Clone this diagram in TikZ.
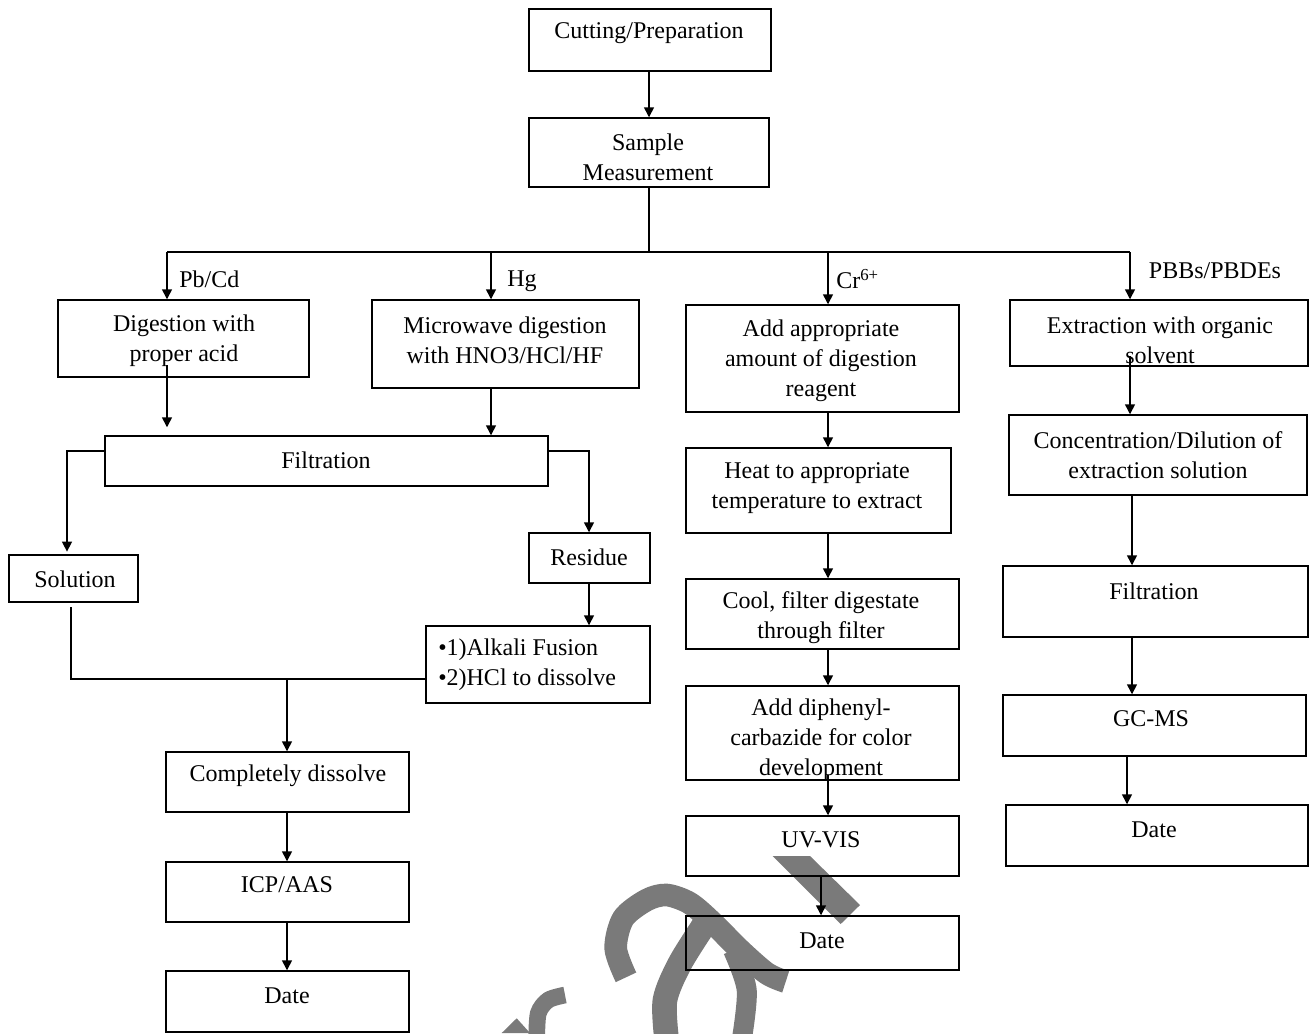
\documentclass[tikz,border=0pt]{standalone}
\usepackage{fontspec}
\setmainfont{Liberation Serif}
\usetikzlibrary{fit,arrows.meta}
\begin{document}
\begin{tikzpicture}[x=0.75pt,y=-0.75pt,
  box/.style={draw=black,line width=1.1pt,inner sep=0pt,rectangle},
  txt/.style={font=\fontsize{18}{22.5}\selectfont,align=center,inner sep=0pt},
  lbl/.style={font=\fontsize{18}{22.5}\selectfont,inner sep=0pt},
  conn/.style={draw=black,line width=1.1pt},
  arr/.style={conn,-{Triangle[length=7.5pt,width=7.5pt]}}]
\useasboundingbox (0,0) rectangle (1309,1033);
\newcommand\bx[5]{\node[box,fit={(#2,#3)(#4,#5)}] (#1) {};}
% boxes
\bx{cut}{529}{9}{771}{71}
\bx{samp}{529}{118}{769}{187}
\bx{dig}{58}{300}{309}{377}
\bx{mw}{372}{300}{639}{388}
\bx{cra}{686}{305}{959}{412}
\bx{ex}{1010}{300}{1308}{366}
\bx{filt}{105}{436}{548}{486}
\bx{sol}{9}{555}{138}{602}
\bx{res}{529}{533}{650}{583}
\bx{alk}{426}{626}{650}{703}
\bx{cd}{166}{752}{409}{812}
\bx{icp}{166}{862}{409}{922}
\bx{dateA}{166}{971}{409}{1032}
\bx{crb}{686}{448}{951}{533}
\bx{crc}{686}{579}{959}{649}
\bx{crd}{686}{686}{959}{780}
\bx{uv}{686}{816}{959}{876}
\bx{dateB}{686}{916}{959}{970}
\bx{conc}{1009}{415}{1307}{495}
\bx{filtB}{1003}{566}{1308}{637}
\bx{gc}{1003}{695}{1306}{756}
\bx{dateC}{1006}{805}{1308}{866}
% texts
\node[txt] (tcut) at (649,33) {Cutting/Preparation};
\node[txt] (tsamp) at (648,157.5) {Sample\\Measurement};
\node[txt] (tdig) at (184,340.5) {Digestion with\\proper acid};
\node[txt] (tmw) at (505,340.5) {Microwave digestion\\with HNO3/HCl/HF};
\node[txt] (tcra) at (821,360.5) {Add appropriate\\amount of digestion\\reagent};
\node[txt] (tex) at (1160,340.5) {Extraction with organic\\solvent};
\node[txt] (tfilt) at (326,460) {Filtration};
\node[txt] (tsol) at (75,579) {Solution};
\node[txt] (tres) at (589,557) {Residue};
\node[txt,align=left,anchor=west] (talk) at (438,665) {•1)Alkali Fusion\\•2)HCl to dissolve};
\node[txt] (tcd) at (288,776) {Completely dissolve};
\node[txt] (ticp) at (287,885) {ICP/AAS};
\node[txt] (tdateA) at (287,996) {Date};
\node[txt] (tcrb) at (817,488) {Heat to appropriate\\temperature to extract};
\node[txt] (tcrc) at (821,618) {Cool, filter digestate\\through filter};
\node[txt] (tcrd) at (821,740) {Add diphenyl-\\carbazide for color\\development};
\node[txt] (tuv) at (821,840) {UV-VIS};
\node[txt] (tdateB) at (822,941) {Date};
\node[txt] (tconc) at (1158,455.5) {Concentration/Dilution of\\extraction solution};
\node[txt] (tfiltB) at (1154,591) {Filtration};
\node[txt] (tgc) at (1151,719) {GC-MS};
\node[txt] (tdateC) at (1154,830) {Date};
% branch labels
\node[lbl,anchor=west] (lpb) at (179,279) {Pb/Cd};
\node[lbl,anchor=west] (lhg) at (507,281) {Hg};
\node[lbl,anchor=west] (lcr) at (836,279) {Cr\textsuperscript{6+}};
\node[lbl] (lpbb) at (1215,271) {PBBs/PBDEs};
% connectors
\coordinate (top) at (649,0);
\draw[arr] (cut.south -| top) -- (samp.north -| top);
\coordinate (bus) at (649,252);
\coordinate (busL) at (167,252);
\coordinate (busR) at (1130,252);
\coordinate (bHg) at (491,252);
\coordinate (bCr) at (828,252);
\draw[conn] (samp.south -| top) -- (bus);
\draw[conn] (busL) -- (busR);
\draw[arr] (busL) -- (dig.north -| busL);
\draw[arr] (bHg) -- (mw.north -| bHg);
\draw[arr] (bCr) -- (cra.north -| bCr);
\draw[arr] (busR) -- (ex.north -| busR);
\coordinate (d1) at (167,365);
\draw[arr,shorten >=6pt] (d1) -- (filt.north -| d1);
\draw[arr] (mw.south -| bHg) -- (filt.north -| bHg);
\coordinate (fl) at (67,451);
\draw[arr,shorten >=2pt] (filt.west |- fl) -- (fl) -- (sol.north -| fl);
\coordinate (fr) at (589,451);
\draw[arr] (filt.east |- fr) -- (fr) -- (res.north -| fr);
\draw[arr] (res.south -| fr) -- (alk.north -| fr);
\coordinate (s1) at (71,607);
\coordinate (s2) at (71,679);
\draw[conn] (s1) -- (s2) -- (alk.west |- s2);
\coordinate (jn) at (287,679);
\draw[arr] (jn) -- (cd.north -| jn);
\draw[arr] (cd.south -| jn) -- (icp.north -| jn);
\draw[arr] (icp.south -| jn) -- (dateA.north -| jn);
\draw[arr] (cra.south -| bCr) -- (crb.north -| bCr);
\draw[arr] (crb.south -| bCr) -- (crc.north -| bCr);
\draw[arr] (crc.south -| bCr) -- (crd.north -| bCr);
\coordinate (c4) at (828,775);
\draw[arr] (c4) -- (uv.north -| c4);
\coordinate (c5) at (821,876);
\draw[arr] (c5) -- (dateB.north -| c5);
\coordinate (e1) at (1130,356);
\draw[arr] (e1) -- (conc.north -| e1);
\coordinate (e2) at (1132,495);
\draw[arr] (e2) -- (filtB.north -| e2);
\draw[arr] (filtB.south -| e2) -- (gc.north -| e2);
\coordinate (e3) at (1127,756);
\draw[arr] (e3) -- (dateC.north -| e3);
% watermark
\begin{scope}
\clip (0,0) rectangle (1309,1033);
\begin{scope}[transparency group,opacity=0.52]
\fill[black] (772.7,856) -- (810,856) -- (860,905) -- (840.7,924) -- cycle;
\draw[black,line width=17pt] plot[smooth] coordinates {(626,977.3) (615.7,948.3) (623.3,918.3) (646.7,900) (666.7,895) (690,903.3) (713.3,923.3) (740,950) (766.7,973.3) (785.7,981.7)};
\draw[black,line width=18.5pt] plot[smooth] coordinates {(706,922) (680,963.3) (665,1000) (666.7,1040)};
\draw[black,line width=15pt] plot[smooth] coordinates {(733,950) (746.7,990) (741.7,1040)};
\draw[black,line width=12.5pt] plot[smooth] coordinates {(536.7,1040) (538.3,1013.3) (548.3,1000) (565,995)};
\fill[black] (501.7,1033) -- (516.7,1018.3) -- (530,1033) -- cycle;
\end{scope}
\end{scope}
\end{tikzpicture}
\end{document}
